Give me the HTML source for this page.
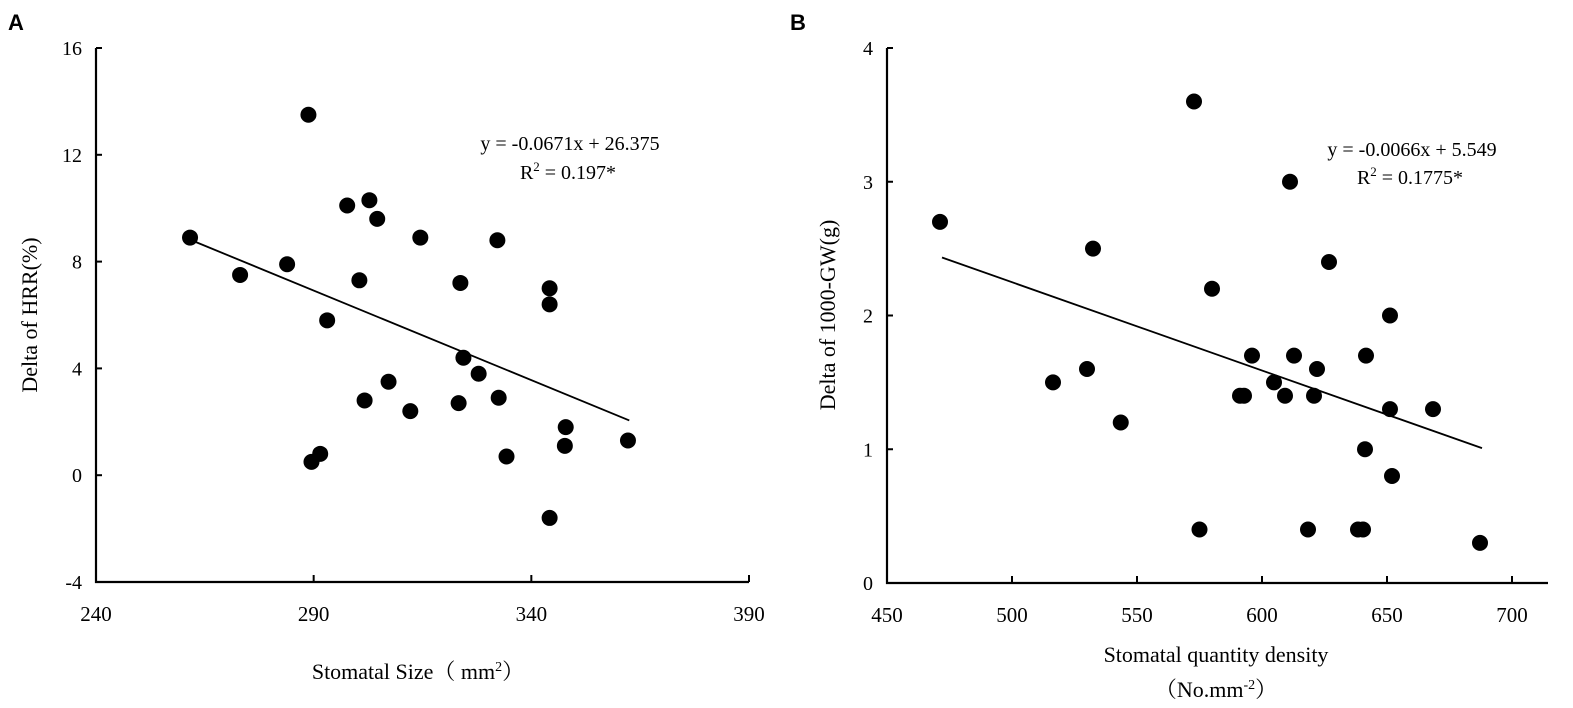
<!DOCTYPE html>
<html><head><meta charset="utf-8"><style>
body{margin:0;background:#fff;}
svg{display:block;font-family:"Liberation Serif","Noto Serif CJK SC",serif;}
</style></head><body>
<svg id="chart" width="1573" height="708" viewBox="0 0 1573 708">
<text x="8" y="30" font-family="Liberation Sans, sans-serif" font-weight="bold" font-size="22">A</text>
<text x="790" y="30" font-family="Liberation Sans, sans-serif" font-weight="bold" font-size="22">B</text>
<g id="pa"></g>
<g id="pb"></g>
</svg>
<script>
// Panel A data
const aSize = [261.6,273.1,283.9,288.8,289.5,291.5,293.1,297.7,300.5,301.7,302.8,304.6,307.2,312.2,314.5,323.3,323.7,324.4,327.9,332.2,332.5,334.3,344.2,344.2,344.2,347.9,347.7,362.2];
const aHRR  = [8.9,7.5,7.9,13.5,0.5,0.8,5.8,10.1,7.3,2.8,10.3,9.6,3.5,2.4,8.9,2.7,7.2,4.4,3.8,8.8,2.9,0.7,7.0,6.4,-1.6,1.8,1.1,1.3];
const aXTicks = [240,290,340,390];
const aYTicks = [-4,0,4,8,12,16];
const aFit = [-0.0671, 26.375];
// Panel B data
const bDensity = [471.2,516.4,530,532.4,543.5,572.8,575,580,591.2,592.8,596,604.8,609.2,612.8,611.2,618.4,620.8,622,626.8,638.4,640.4,641.2,641.6,651.2,651.2,652,668.4,687.2];
const bGW = [2.7,1.5,1.6,2.5,1.2,3.6,0.4,2.2,1.4,1.4,1.7,1.5,1.4,1.7,3.0,0.4,1.4,1.6,2.4,0.4,0.4,1.0,1.7,2.0,1.3,0.8,1.3,0.3];
const bXTicks = [450,500,550,600,650,700];
const bYTicks = [0,1,2,3,4];
const bFit = [-0.0066, 5.549];

const NS='http://www.w3.org/2000/svg';
function mk(parent,tag,attrs,text){const e=document.createElementNS(NS,tag);for(const k in attrs)e.setAttribute(k,attrs[k]);if(text!==undefined)e.textContent=text;parent.appendChild(e);return e;}

function panel(g,o){
  const sx=v=>o.x0+(v-o.xmin)*(o.x1-o.x0)/(o.xmax-o.xmin);
  const sy=v=>o.y0+(v-o.ymin)*(o.y1-o.y0)/(o.ymax-o.ymin);
  const ax=mk(g,'path',{d:`M${o.x0} ${o.y1}V${o.y0}H${o.xend}`,stroke:'#000','stroke-width':2.2,fill:'none'});
   
  o.yt.forEach(v=>{
    const y=sy(v);
    const t=mk(g,'line',{x1:o.x0,x2:o.x0+6,y1:y,y2:y,stroke:'#000','stroke-width':2});
     
    const l=mk(g,'text',{x:o.x0-14,y:y+7,'text-anchor':'end','font-size':20},String(v));
     
  });
  o.xt.forEach(v=>{
    const x=sx(v);
    const t=mk(g,'line',{x1:x,x2:x,y1:o.y0,y2:o.y0-7,stroke:'#000','stroke-width':2});
     
    const l=mk(g,'text',{x:x,y:o.y0+39,'text-anchor':'middle','font-size':21},String(v));
     
  });
  const xa=o.fx[0], xb=o.fx[1];
  const fl=mk(g,'line',{x1:sx(xa),y1:sy(o.fit[0]*xa+o.fit[1]),x2:sx(xb),y2:sy(o.fit[0]*xb+o.fit[1]),stroke:'#000','stroke-width':1.8});
   
  o.xs.forEach((v,i)=>{
    const c=mk(g,'circle',{cx:sx(v),cy:sy(o.ys[i]),r:8,fill:'#000'});
     
  });
}
panel(document.getElementById('pa'),{x0:96,x1:749,xend:749,xmin:240,xmax:390,y0:582,y1:48,ymin:-4,ymax:16,xt:aXTicks,yt:aYTicks,xs:aSize,ys:aHRR,fit:aFit,fx:[262,362.5]});
panel(document.getElementById('pb'),{x0:887,x1:1512,xend:1548,xmin:450,xmax:700,y0:583,y1:48,ymin:0,ymax:4,xt:bXTicks,yt:bYTicks,xs:bDensity,ys:bGW,fit:bFit,fx:[472,688]});
</script>
<div style="position:absolute;left:0;top:0;width:1573px;height:708px;pointer-events:none;">
<svg width="1573" height="708" style="font-family:'Liberation Serif','Noto Serif CJK SC',serif;">
<text x="570" y="150" text-anchor="middle" font-size="20">y = -0.0671x + 26.375</text>
<text x="568" y="179" text-anchor="middle" font-size="20">R<tspan font-size="13" dy="-8">2</tspan><tspan dy="8"> = 0.197*</tspan></text>
<text x="1412" y="156" text-anchor="middle" font-size="20">y = -0.0066x + 5.549</text>
<text x="1410" y="184" text-anchor="middle" font-size="20">R<tspan font-size="13" dy="-8">2</tspan><tspan dy="8"> = 0.1775*</tspan></text>
<text transform="translate(37,315) rotate(-90)" text-anchor="middle" font-size="22">Delta of  HRR(%)</text>
<text transform="translate(835,315) rotate(-90)" text-anchor="middle" font-size="22">Delta of 1000-GW(g)</text>
<text x="418" y="679" text-anchor="middle" font-size="22">Stomatal Size（ mm<tspan font-size="14" dy="-8">2</tspan><tspan dy="8">）</tspan></text>
<text x="1216" y="662" text-anchor="middle" font-size="22">Stomatal quantity density</text>
<text x="1216" y="697" text-anchor="middle" font-size="22">（No.mm<tspan font-size="14" dy="-8">-2</tspan><tspan dy="8">）</tspan></text>
</svg></div>
</body></html>
